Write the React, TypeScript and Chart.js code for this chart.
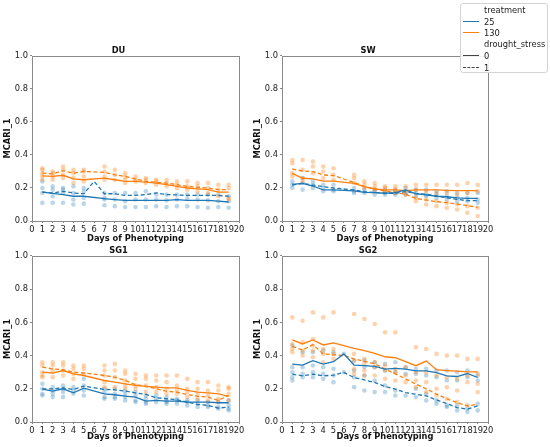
import React, { useEffect, useRef } from "react";
import { Chart, registerables } from "chart.js";
Chart.register(...registerables);

const DAYS = [1, 2, 3, 4, 5, 6, 7, 8, 9, 10, 11, 12, 13, 14, 15, 16, 17, 18, 19];
const X_TICKS = [0, 1, 2, 3, 4, 5, 6, 7, 8, 9, 10, 11, 12, 13, 14, 15, 16, 17, 18, 19, 20];
const Y_TICKS = [0, 0.2, 0.4, 0.6, 0.8, 1.0];
const TREATMENTS = ["25", "130"];
const DROUGHT = ["0", "1"];

// ---------- DU ----------
const DU_25_0 = [0.175, 0.168, 0.16, 0.15, 0.15, null, 0.135, 0.13, 0.125, 0.125, 0.125, 0.125, 0.125, 0.13, 0.125, 0.125, 0.125, 0.12, 0.115];
const DU_25_1 = [0.175, 0.17, 0.18, 0.17, 0.165, 0.24, 0.165, 0.165, 0.155, 0.155, 0.16, 0.17, 0.16, 0.158, 0.155, 0.155, 0.155, 0.155, 0.15];
const DU_130_0 = [0.273, 0.27, 0.277, 0.255, 0.25, null, 0.26, 0.25, 0.24, 0.24, 0.235, 0.23, 0.22, 0.21, 0.2, 0.195, 0.19, 0.175, 0.175];
const DU_130_1 = [0.29, 0.285, 0.305, 0.29, 0.3, null, 0.295, 0.28, 0.27, 0.255, 0.24, 0.235, 0.23, 0.22, 0.21, 0.205, 0.2, 0.19, 0.19];
const DU_P25 = [
  [0.24, 0.2, 0.17, 0.11], [0.21, 0.19, 0.15, 0.11], [0.2, 0.19, 0.17, 0.11], [0.21, 0.17, 0.13, 0.1], [0.2, 0.18, 0.14, 0.105], [],
  [0.17, 0.14, 0.13, 0.095], [0.17, 0.13, 0.09], [0.17, 0.12, 0.085], [0.17, 0.13, 0.085], [0.18, 0.13, 0.085], [0.16, 0.13, 0.09],
  [0.16, 0.125, 0.085], [0.16, 0.13, 0.09], [0.16, 0.135, 0.09], [0.16, 0.13, 0.085], [0.16, 0.125, 0.08], [0.16, 0.12, 0.085], [0.15, 0.12, 0.08],
];
const DU_P130 = [
  [0.32, 0.31, 0.29, 0.27, 0.25], [0.3, 0.29, 0.27, 0.25], [0.33, 0.31, 0.28, 0.26], [0.31, 0.29, 0.26, 0.23], [0.31, 0.3, 0.27, 0.24], [],
  [0.33, 0.3, 0.27, 0.25], [0.31, 0.28, 0.25], [0.29, 0.27, 0.25, 0.23], [0.27, 0.25, 0.24], [0.26, 0.25, 0.23], [0.25, 0.24, 0.22],
  [0.25, 0.23, 0.21], [0.24, 0.22, 0.2], [0.24, 0.21, 0.19], [0.23, 0.21, 0.18], [0.23, 0.2, 0.17], [0.22, 0.19, 0.15], [0.22, 0.2, 0.14, 0.13],
];

// ---------- SW ----------
const SW_25_0 = [0.222, 0.228, 0.212, 0.188, 0.188, null, 0.182, 0.174, 0.172, 0.168, 0.172, 0.188, 0.165, 0.158, 0.15, 0.147, 0.14, 0.137, 0.137];
const SW_25_1 = [0.218, 0.228, 0.218, 0.208, 0.2, null, 0.188, 0.178, 0.172, 0.168, 0.168, 0.178, 0.168, 0.162, 0.152, 0.141, 0.131, 0.123, 0.123];
const SW_130_0 = [0.289, 0.259, 0.255, 0.242, 0.242, null, 0.228, 0.208, 0.194, 0.188, 0.188, 0.184, 0.188, 0.188, 0.188, 0.186, 0.184, 0.184, 0.184];
const SW_130_1 = [0.315, 0.303, 0.299, 0.279, 0.275, null, 0.234, 0.208, 0.194, 0.182, 0.174, 0.162, 0.137, 0.127, 0.117, 0.111, 0.103, 0.093, 0.083];
const SW_P25 = [
  [0.24, 0.22, 0.2], [0.26, 0.23, 0.19], [0.24, 0.22, 0.2], [0.22, 0.2, 0.18], [0.22, 0.19, 0.18], [],
  [0.2, 0.18, 0.17], [0.2, 0.18, 0.17], [0.19, 0.18, 0.16], [0.19, 0.17, 0.16], [0.19, 0.17, 0.16], [0.2, 0.17, 0.16],
  [0.19, 0.17, 0.15], [0.19, 0.16, 0.15], [0.18, 0.16, 0.14], [0.18, 0.15, 0.13], [0.17, 0.14, 0.12], [0.17, 0.14, 0.12], [0.17, 0.13, 0.11],
];
const SW_P130 = [
  [0.37, 0.35, 0.29, 0.27], [0.37, 0.31, 0.26, 0.24], [0.36, 0.33, 0.29], [0.33, 0.3, 0.26], [0.32, 0.28, 0.25], [],
  [0.28, 0.26, 0.23], [0.24, 0.22, 0.2], [0.23, 0.21, 0.19], [0.21, 0.2, 0.18], [0.21, 0.19, 0.17], [0.21, 0.18, 0.16],
  [0.22, 0.19, 0.14, 0.12], [0.22, 0.18, 0.13, 0.1], [0.22, 0.17, 0.12, 0.09], [0.22, 0.17, 0.11, 0.08], [0.22, 0.16, 0.1, 0.07],
  [0.23, 0.17, 0.09, 0.05], [0.22, 0.18, 0.08, 0.03],
];

// ---------- SG1 ----------
const SG1_25_0 = [0.198, 0.186, 0.2, 0.176, 0.204, null, 0.17, 0.164, 0.156, 0.15, 0.126, 0.13, 0.126, 0.126, 0.12, 0.12, 0.12, 0.116, 0.116];
const SG1_25_1 = [0.2, 0.2, 0.205, 0.196, 0.216, null, 0.196, 0.194, 0.186, 0.176, 0.166, 0.146, 0.14, 0.134, 0.12, 0.106, 0.1, 0.084, 0.09];
const SG1_130_0 = [0.3, 0.295, 0.31, 0.29, 0.28, null, 0.25, 0.24, 0.23, 0.22, 0.215, 0.21, 0.205, 0.205, 0.19, 0.18, 0.175, 0.17, 0.155];
const SG1_130_1 = [0.33, 0.32, 0.315, 0.3, 0.295, null, 0.28, 0.27, 0.25, 0.225, 0.215, 0.2, 0.185, 0.18, 0.165, 0.155, 0.15, 0.13, 0.16];
const SG1_P25 = [
  [0.23, 0.2, 0.17, 0.16], [0.21, 0.19, 0.17, 0.15], [0.22, 0.2, 0.18, 0.15], [0.21, 0.19, 0.17], [0.26, 0.22, 0.19, 0.16], [],
  [0.2, 0.18, 0.15, 0.14], [0.2, 0.17, 0.15, 0.14], [0.19, 0.17, 0.15, 0.13], [0.18, 0.16, 0.13, 0.12], [0.16, 0.14, 0.12, 0.11],
  [0.16, 0.14, 0.12], [0.15, 0.13, 0.12, 0.11], [0.14, 0.13, 0.11], [0.13, 0.12, 0.1], [0.13, 0.11, 0.09], [0.12, 0.1, 0.09],
  [0.12, 0.09, 0.08], [0.13, 0.1, 0.08, 0.07],
];
const SG1_P130 = [
  [0.36, 0.34, 0.3, 0.28, 0.27], [0.36, 0.34, 0.31, 0.27], [0.36, 0.34, 0.31, 0.28], [0.34, 0.32, 0.29, 0.26], [0.34, 0.32, 0.29], [],
  [0.34, 0.31, 0.28, 0.24, 0.21], [0.35, 0.31, 0.27, 0.21], [0.31, 0.29, 0.25, 0.22, 0.2], [0.29, 0.26, 0.22, 0.2], [0.28, 0.26, 0.22, 0.18],
  [0.28, 0.25, 0.21, 0.18], [0.28, 0.24, 0.2, 0.17], [0.28, 0.22, 0.19, 0.17], [0.26, 0.2, 0.18, 0.15], [0.24, 0.2, 0.17, 0.14],
  [0.24, 0.19, 0.16, 0.13], [0.22, 0.19, 0.14, 0.12], [0.21, 0.2, 0.17, 0.13],
];

// ---------- SG2 ----------
const SG2_25_0 = [0.349, 0.343, 0.369, 0.349, 0.363, 0.41, 0.343, 0.339, 0.335, 0.319, 0.323, 0.319, 0.308, 0.308, 0.298, 0.278, 0.274, 0.292, 0.268];
const SG2_25_1 = [0.288, 0.278, 0.288, 0.278, 0.282, 0.298, 0.268, 0.254, 0.238, 0.214, 0.198, 0.177, 0.167, 0.157, 0.133, 0.111, 0.087, 0.077, 0.097];
const SG2_130_0 = [0.494, 0.47, 0.494, 0.464, 0.476, 0.46, 0.444, 0.43, 0.413, 0.393, 0.387, 0.363, 0.339, 0.367, 0.315, 0.31, 0.306, 0.302, 0.302];
const SG2_130_1 = [0.456, 0.433, 0.466, 0.41, 0.405, 0.4, 0.38, 0.365, 0.35, 0.32, 0.29, 0.26, 0.228, 0.2, 0.168, 0.14, 0.117, 0.097, 0.107];
const SG2_P25 = [
  [0.46, 0.33, 0.3, 0.27, 0.25], [0.42, 0.33, 0.29, 0.27], [0.42, 0.34, 0.3, 0.27], [0.43, 0.33, 0.29, 0.26], [0.42, 0.32, 0.28, 0.24],
  [0.41, 0.3], [0.37, 0.31, 0.27, 0.21], [0.37, 0.33, 0.28, 0.19], [0.36, 0.33, 0.25, 0.18], [0.35, 0.31, 0.22, 0.18],
  [0.36, 0.3, 0.19, 0.16], [0.33, 0.29, 0.16], [0.32, 0.29, 0.2, 0.15], [0.32, 0.28, 0.17, 0.13], [0.31, 0.27, 0.13, 0.11],
  [0.31, 0.25, 0.1, 0.09], [0.3, 0.25, 0.1, 0.07], [0.31, 0.27, 0.08, 0.06], [0.28, 0.25, 0.11, 0.07],
];
const SG2_P130 = [
  [0.63, 0.47, 0.44, 0.42], [0.61, 0.48, 0.43, 0.4], [0.66, 0.5, 0.46, 0.43, 0.39], [0.63, 0.44, 0.41, 0.36], [0.66, 0.44, 0.41, 0.38], [],
  [0.65, 0.41, 0.37, 0.32, 0.29], [0.62, 0.38, 0.35, 0.31, 0.28], [0.59, 0.36, 0.33, 0.28], [0.54, 0.34, 0.31, 0.26], [0.54, 0.32, 0.3, 0.25],
  [0.33, 0.28, 0.24], [0.45, 0.3, 0.25, 0.21], [0.44, 0.3, 0.24, 0.18], [0.41, 0.28, 0.2, 0.16], [0.4, 0.27, 0.21, 0.14],
  [0.4, 0.26, 0.19, 0.12], [0.38, 0.28, 0.24, 0.1], [0.38, 0.29, 0.23, 0.18],
];

const BLUE = "rgb(31,119,180)";
const ORANGE = "rgb(255,127,14)";
const BLUE_PT = "rgba(31,119,180,0.3)";
const ORANGE_PT = "rgba(255,127,14,0.35)";
const FONT = "'DejaVu Sans', sans-serif";
const FS = 8.3;
const SPINE = "#8a8a8a";

type Vals = (number | null)[];
interface PanelDef {
  title: string;
  l25_0: Vals; l25_1: Vals; l130_0: Vals; l130_1: Vals;
  p25: number[][]; p130: number[][];
  left: number; top: number; width: number; height: number;
  padR: number; xAxisH: number; xTitlePad: number;
}

const toXY = (vals: Vals) =>
  vals.map((v, i) => (v == null ? null : { x: DAYS[i], y: v })).filter((p) => p !== null);
const toPts = (arr: number[][]) => arr.flatMap((vs, i) => vs.map((v) => ({ x: DAYS[i], y: v })));

const spinePlugin = {
  id: "spines",
  afterDatasetsDraw(chart: any) {
    const { ctx, chartArea: a } = chart;
    ctx.save();
    ctx.strokeStyle = SPINE;
    ctx.lineWidth = 1;
    ctx.strokeRect(Math.round(a.left) + 0.5, Math.round(a.top) + 0.5, Math.round(a.right - a.left), Math.round(a.bottom - a.top));
    ctx.restore();
  },
};

function Panel({ def }: { def: PanelDef }) {
  const ref = useRef<HTMLCanvasElement | null>(null);
  useEffect(() => {
    if (!ref.current) return;
    const line = (vals: Vals, color: string, dashed: boolean, label: string) => ({
      type: "line" as const,
      label,
      data: toXY(vals),
      borderColor: color,
      backgroundColor: color,
      borderWidth: 1.3,
      borderDash: dashed ? [4, 2.5] : [],
      pointRadius: 0,
      showLine: true,
      fill: false,
      tension: 0,
    });
    const scatter = (arr: number[][], color: string, label: string) => ({
      type: "scatter" as const,
      label,
      data: toPts(arr),
      backgroundColor: color,
      borderWidth: 0,
      pointRadius: 2.3,
      showLine: false,
    });
    const chart = new Chart(ref.current, {
      type: "scatter",
      data: {
        datasets: [
          line(def.l25_0, BLUE, false, `${TREATMENTS[0]}/${DROUGHT[0]}`),
          line(def.l25_1, BLUE, true, `${TREATMENTS[0]}/${DROUGHT[1]}`),
          line(def.l130_0, ORANGE, false, `${TREATMENTS[1]}/${DROUGHT[0]}`),
          line(def.l130_1, ORANGE, true, `${TREATMENTS[1]}/${DROUGHT[1]}`),
          scatter(def.p130, ORANGE_PT, TREATMENTS[1]),
          scatter(def.p25, BLUE_PT, TREATMENTS[0]),
        ] as any,
      },
      options: {
        responsive: false,
        animation: false,
        devicePixelRatio: 1,
        layout: { padding: { left: 0, right: def.padR, top: 0, bottom: 0 } },
        plugins: {
          legend: { display: false },
          tooltip: { enabled: false },
          title: {
            display: true,
            text: def.title,
            color: "#111",
            font: { family: FONT, size: FS, weight: "bold" },
            padding: { top: 10, bottom: 0 },
          },
        },
        scales: {
          x: {
            type: "linear",
            min: 0,
            max: 20,
            afterBuildTicks: (s: any) => {
              s.ticks = X_TICKS.map((v) => ({ value: v }));
            },
            afterFit: (s: any) => {
              s.height = def.xAxisH;
            },
            ticks: {
              autoSkip: false,
              maxRotation: 0,
              padding: 2,
              color: "#222",
              font: { family: FONT, size: FS },
              callback: (v: any) => String(v),
            },
            grid: { drawOnChartArea: false, drawTicks: true, tickLength: 2, color: SPINE },
            border: { display: false },
            title: {
              display: true,
              text: "Days of Phenotyping",
              color: "#111",
              font: { family: FONT, size: FS, weight: "bold" },
              padding: { top: 0, bottom: def.xTitlePad },
            },
          },
          y: {
            type: "linear",
            min: 0,
            max: 1,
            afterBuildTicks: (s: any) => {
              s.ticks = Y_TICKS.map((v) => ({ value: v }));
            },
            afterFit: (s: any) => {
              s.width = 34;
            },
            ticks: {
              padding: 2,
              color: "#222",
              font: { family: FONT, size: FS },
              callback: (v: any) => Number(v).toFixed(1),
            },
            grid: { drawOnChartArea: false, drawTicks: true, tickLength: 2, color: SPINE },
            border: { display: false },
            title: {
              display: true,
              text: "MCARI_1",
              color: "#111",
              font: { family: FONT, size: FS, weight: "bold" },
              padding: { top: 5, bottom: 0 },
            },
          },
        },
      } as any,
      plugins: [spinePlugin],
    });
    return () => chart.destroy();
  }, [def]);
  return (
    <canvas
      ref={ref}
      width={def.width}
      height={def.height}
      style={{ position: "absolute", left: def.left, top: def.top, width: def.width, height: def.height }}
    />
  );
}

const PANELS: PanelDef[] = [
  { title: "DU", l25_0: DU_25_0, l25_1: DU_25_1, l130_0: DU_130_0, l130_1: DU_130_1, p25: DU_P25, p130: DU_P130,
    left: -2, top: 36, width: 252, height: 212, padR: 11, xAxisH: 27, xTitlePad: 4 },
  { title: "SW", l25_0: SW_25_0, l25_1: SW_25_1, l130_0: SW_130_0, l130_1: SW_130_1, p25: SW_P25, p130: SW_P130,
    left: 248, top: 36, width: 302, height: 212, padR: 62, xAxisH: 27, xTitlePad: 4 },
  { title: "SG1", l25_0: SG1_25_0, l25_1: SG1_25_1, l130_0: SG1_130_0, l130_1: SG1_130_1, p25: SG1_P25, p130: SG1_P130,
    left: -2, top: 236, width: 252, height: 211, padR: 11, xAxisH: 25, xTitlePad: 5 },
  { title: "SG2", l25_0: SG2_25_0, l25_1: SG2_25_1, l130_0: SG2_130_0, l130_1: SG2_130_1, p25: SG2_P25, p130: SG2_P130,
    left: 248, top: 236, width: 302, height: 211, padR: 62, xAxisH: 25, xTitlePad: 5 },
];

function Legend() {
  const rows: { label: string; color?: string; dashed?: boolean; top: number }[] = [
    { label: "treatment", top: 6 },
    { label: TREATMENTS[0], color: BLUE, top: 18 },
    { label: TREATMENTS[1], color: ORANGE, top: 29 },
    { label: "drought_stress", top: 40 },
    { label: DROUGHT[0], color: "#444", top: 52 },
    { label: DROUGHT[1], color: "#444", dashed: true, top: 64 },
  ];
  return (
    <div
      style={{
        position: "absolute",
        left: 460,
        top: 3,
        width: 88,
        height: 70,
        border: "1px solid #d4d4d4",
        borderRadius: 3,
        background: "rgba(255,255,255,0.88)",
        fontFamily: FONT,
        fontSize: FS,
        color: "#222",
        boxSizing: "border-box",
      }}
    >
      {rows.map((r) => (
        <React.Fragment key={r.label}>
          {r.color && (
            <div
              style={{
                position: "absolute",
                left: 2,
                top: r.top - 1,
                width: 16,
                height: 0,
                borderTop: `1.3px ${r.dashed ? "dashed" : "solid"} ${r.color}`,
              }}
            />
          )}
          <div style={{ position: "absolute", left: 23, top: r.top - 6, lineHeight: "12px", whiteSpace: "nowrap" }}>{r.label}</div>
        </React.Fragment>
      ))}
    </div>
  );
}

export default function App() {
  return (
    <div style={{ position: "absolute", left: 0, top: 0, width: 550, height: 447, overflow: "hidden", background: "#fff" }}>
      {PANELS.map((p) => (
        <Panel key={p.title} def={p} />
      ))}
      <Legend />
    </div>
  );
}
